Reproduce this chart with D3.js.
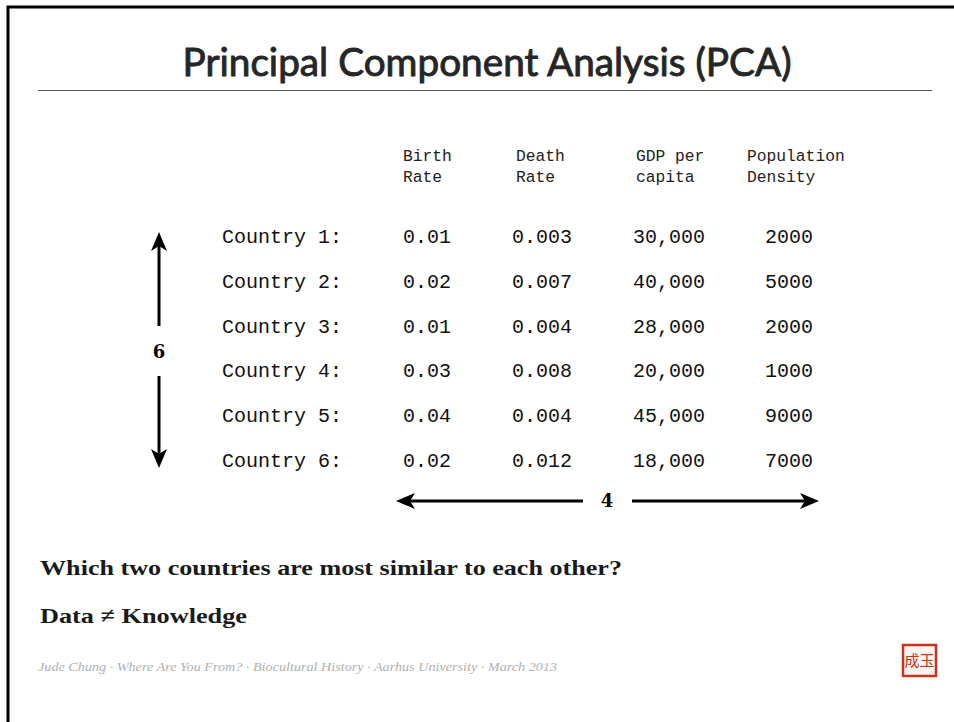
<!DOCTYPE html>
<html>
<head>
<meta charset="utf-8">
<script src="https://cdn.jsdelivr.net/npm/d3@7"></script>
<style>
  html, body { margin: 0; padding: 0; background: #fff; }
</style>
</head>
<body>
<div id="slide"></div>
<script>
// data
var countries = [ 'Country 1', 'Country 2', 'Country 3', 'Country 4', 'Country 5', 'Country 6' ];
var columns = [ 'birth', 'death', 'gdp', 'population' ];
var columnLabels = [ [ 'Birth', 'Rate' ], [ 'Death', 'Rate' ], [ 'GDP per', 'capita' ], [ 'Population', 'Density' ] ];
var birthRate = [ 0.01, 0.02, 0.01, 0.03, 0.04, 0.02 ];
var deathRate = [ 0.003, 0.007, 0.004, 0.008, 0.004, 0.012 ];
var gdpPerCapita = [ 30000, 40000, 28000, 20000, 45000, 18000 ];
var populationDensity = [ 2000, 5000, 2000, 1000, 9000, 7000 ];
var formats = [ '.2f', '.3f', ',', 'd' ];

var title = 'Principal Component Analysis (PCA)';
var question = 'Which two countries are most similar to each other?';
var motto = 'Data \u2260 Knowledge';
var footer = 'Jude Chung \u00b7 Where Are You From? \u00b7 Biocultural History \u00b7 Aarhus University \u00b7 March 2013';

// namespace
var slide = {};

slide.render = function( root ) {
    var width = 954;
    var height = 722;

    var svg = d3.select( root )
                .append( 'svg' )
                .attr( 'width', width )
                .attr( 'height', height );

    svg.append( 'rect' )
       .attr( 'width', width )
       .attr( 'height', height )
       .attr( 'fill', '#fff' );

    // value centres
    var x = d3.scaleOrdinal()
              .domain( columns )
              .range( [ 427, 542, 669, 789 ] );

    // header left edges
    var hx = d3.scaleOrdinal()
               .domain( columns )
               .range( [ 403, 516, 636, 747 ] );

    var y = d3.scalePoint()
              .domain( countries )
              .range( [ 236, 460 ] );

    slide.drawFrame( svg, width, height );
    slide.drawTitle( svg, width );
    slide.drawHeader( svg, hx );
    slide.drawRows( svg, x, y );
    slide.drawArrows( svg, x, y );
    slide.drawNotes( svg );
    slide.drawStamp( svg );
}

// frame
slide.drawFrame = function( svg, width, height ) {
    svg.append( 'path' )
       .attr( 'd', 'M8,' + height + 'V7H' + width )
       .attr( 'fill', 'none' )
       .attr( 'stroke', '#000' )
       .attr( 'stroke-width', 3 );
}

// title
slide.drawTitle = function( svg, width ) {
    svg.append( 'text' )
       .attr( 'x', 487 )
       .attr( 'y', 76 )
       .attr( 'text-anchor', 'middle' )
       .attr( 'font-family', 'Lato, "Open Sans", sans-serif' )
       .attr( 'font-size', 38 )
       .attr( 'textLength', 609 )
       .attr( 'lengthAdjust', 'spacingAndGlyphs' )
       .attr( 'fill', '#262626' )
       .attr( 'stroke', '#262626' )
       .attr( 'stroke-width', 0.9 )
       .text( title );

    svg.append( 'line' )
       .attr( 'x1', 38 )
       .attr( 'x2', 932 )
       .attr( 'y1', 90.5 )
       .attr( 'y2', 90.5 )
       .attr( 'stroke', '#555' )
       .attr( 'stroke-width', 1 );
}

// header
slide.drawHeader = function( svg, hx ) {
    columns.forEach( function( c, i ) {
        var text = svg.append( 'text' )
                      .attr( 'font-family', '"Liberation Mono", "DejaVu Sans Mono", monospace' )
                      .attr( 'font-size', 16.3 )
                      .attr( 'fill', '#222' );
        columnLabels[ i ].forEach( function( l, j ) {
            text.append( 'tspan' )
                .attr( 'x', hx( c ) )
                .attr( 'y', 161 + j * 21 )
                .text( l );
        });
    });
}

// rows
slide.drawRows = function( svg, x, y ) {
    var series = [ birthRate, deathRate, gdpPerCapita, populationDensity ];
    var mono = '"Liberation Mono", "DejaVu Sans Mono", monospace';

    svg.selectAll( 'text.country' )
       .data( countries )
       .enter()
       .append( 'text' )
       .attr( 'class', 'country' )
       .attr( 'x', 222 )
       .attr( 'y', function( d ) { return y( d ); } )
       .attr( 'dy', '0.35em' )
       .attr( 'font-family', mono )
       .attr( 'font-size', 20 )
       .attr( 'fill', '#111' )
       .text( function( d ) { return d + ':'; } );

    columns.forEach( function( c, i ) {
        var format = d3.format( formats[ i ] );
        svg.selectAll( 'text.v' + i )
           .data( series[ i ] )
           .enter()
           .append( 'text' )
           .attr( 'class', 'v' + i )
           .attr( 'x', x( c ) )
           .attr( 'y', function( d, j ) { return y( countries[ j ] ); } )
           .attr( 'dy', '0.35em' )
           .attr( 'text-anchor', 'middle' )
           .attr( 'font-family', mono )
           .attr( 'font-size', 20 )
           .attr( 'fill', '#111' )
           .text( function( d ) { return format( d ); } );
    });
}

// arrow head
slide.head = function( svg, px, py, angle ) {
    svg.append( 'path' )
       .attr( 'd', 'M0,0L-19,-8L-14,0L-19,8Z' )
       .attr( 'transform', 'translate(' + px + ',' + py + ') rotate(' + angle + ')' )
       .attr( 'fill', '#000' );
}

// arrows
slide.drawArrows = function( svg, x, y ) {
    var serif = '"DejaVu Serif", "Liberation Serif", serif';

    // vertical: rows
    var vx = 159;
    var top = y( countries[ 0 ] ) - 4;
    var bottom = y( countries[ countries.length - 1 ] ) + 8;
    var mid = ( top + bottom ) / 2;

    svg.append( 'line' )
       .attr( 'x1', vx ).attr( 'x2', vx )
       .attr( 'y1', top + 12 ).attr( 'y2', mid - 24 )
       .attr( 'stroke', '#000' ).attr( 'stroke-width', 3 );
    svg.append( 'line' )
       .attr( 'x1', vx ).attr( 'x2', vx )
       .attr( 'y1', mid + 26 ).attr( 'y2', bottom - 12 )
       .attr( 'stroke', '#000' ).attr( 'stroke-width', 3 );
    slide.head( svg, vx, top, -90 );
    slide.head( svg, vx, bottom, 90 );

    svg.append( 'text' )
       .attr( 'x', vx )
       .attr( 'y', mid + 2 )
       .attr( 'dy', '0.35em' )
       .attr( 'text-anchor', 'middle' )
       .attr( 'font-family', serif )
       .attr( 'font-weight', 'bold' )
       .attr( 'font-size', 18 )
       .text( countries.length );

    // horizontal: columns
    var hy = 501;
    var left = x( columns[ 0 ] ) - 31;
    var right = x( columns[ columns.length - 1 ] ) + 30;
    var center = 607;

    svg.append( 'line' )
       .attr( 'x1', left + 12 ).attr( 'x2', center - 24 )
       .attr( 'y1', hy ).attr( 'y2', hy )
       .attr( 'stroke', '#000' ).attr( 'stroke-width', 3 );
    svg.append( 'line' )
       .attr( 'x1', center + 25 ).attr( 'x2', right - 12 )
       .attr( 'y1', hy ).attr( 'y2', hy )
       .attr( 'stroke', '#000' ).attr( 'stroke-width', 3 );
    slide.head( svg, left, hy, 180 );
    slide.head( svg, right, hy, 0 );

    svg.append( 'text' )
       .attr( 'x', center )
       .attr( 'y', hy )
       .attr( 'dy', '0.35em' )
       .attr( 'text-anchor', 'middle' )
       .attr( 'font-family', serif )
       .attr( 'font-weight', 'bold' )
       .attr( 'font-size', 18 )
       .text( columns.length );
}

// notes
slide.drawNotes = function( svg ) {
    var serif = '"Liberation Serif", "DejaVu Serif", serif';

    svg.append( 'text' )
       .attr( 'x', 40 )
       .attr( 'y', 575 )
       .attr( 'font-family', serif )
       .attr( 'font-size', 22 )
       .attr( 'font-weight', 'bold' )
       .attr( 'textLength', 582 )
       .attr( 'lengthAdjust', 'spacingAndGlyphs' )
       .attr( 'fill', '#1a1a1a' )
       .text( question );

    svg.append( 'text' )
       .attr( 'x', 40 )
       .attr( 'y', 623 )
       .attr( 'font-family', serif )
       .attr( 'font-size', 22 )
       .attr( 'font-weight', 'bold' )
       .attr( 'textLength', 207 )
       .attr( 'lengthAdjust', 'spacingAndGlyphs' )
       .attr( 'fill', '#1a1a1a' )
       .text( motto );

    svg.append( 'text' )
       .attr( 'x', 38 )
       .attr( 'y', 671 )
       .attr( 'font-family', serif )
       .attr( 'font-style', 'italic' )
       .attr( 'font-size', 12 )
       .attr( 'textLength', 519 )
       .attr( 'lengthAdjust', 'spacingAndGlyphs' )
       .attr( 'fill', '#b0b0b0' )
       .text( footer );
}

// stamp
slide.drawStamp = function( svg ) {
    svg.append( 'rect' )
       .attr( 'x', 903 )
       .attr( 'y', 645 )
       .attr( 'width', 33 )
       .attr( 'height', 31 )
       .attr( 'fill', '#fdf3ee' )
       .attr( 'stroke', '#c8321e' )
       .attr( 'stroke-width', 2.5 );

    svg.append( 'text' )
       .attr( 'x', 919.5 )
       .attr( 'y', 661 )
       .attr( 'dy', '0.35em' )
       .attr( 'text-anchor', 'middle' )
       .attr( 'font-family', '"Noto Sans CJK SC", sans-serif' )
       .attr( 'font-size', 15 )
       .attr( 'fill', '#c8321e' )
       .text( '成玉' );
}

slide.render( '#slide' );
</script>
</body>
</html>
